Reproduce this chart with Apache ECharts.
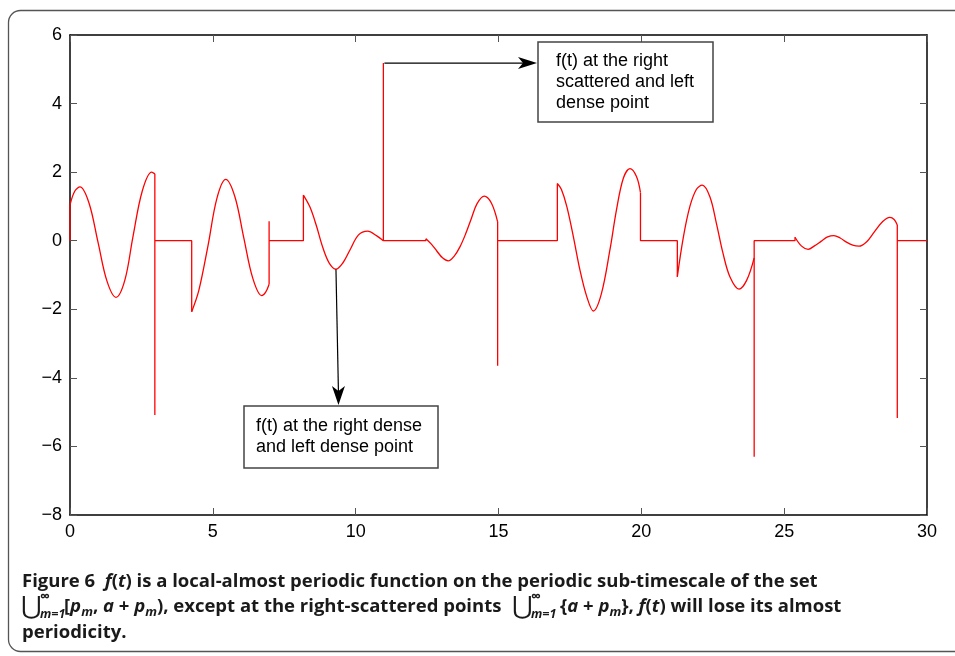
<!DOCTYPE html>
<html>
<head>
<meta charset="utf-8">
<script src="https://cdn.jsdelivr.net/npm/echarts@6/dist/echarts.min.js"></script>
<style>
  html, body { margin: 0; padding: 0; background: #fff; }
  #main { width: 955px; height: 656px; }
</style>
</head>
<body>
<div id="main"></div>
<script>
// axis ticks
var xTicks = [0, 5, 10, 15, 20, 25, 30];
var yTicks = [-8, -6, -4, -2, 0, 2, 4, 6];

// oscillating pieces of f(t)
var wave1 = [[0,1.05],[0.17,1.45],[0.35,1.57],[0.665,1.1],[0.98,-0.04],[1.295,-1.18],[1.61,-1.65],[1.92,-1.15],[2.2,0.1],[2.53,1.45],[2.86,2.0],[2.97,1.95]];
var wave2 = [[4.26,-2.07],[4.51,-1.45],[4.83,-0.15],[5.14,1.23],[5.45,1.79],[5.77,1.29],[6.08,0.1],[6.4,-1.1],[6.71,-1.6],[6.85,-1.5],[6.97,-1.27]];
var wave3 = [[8.17,1.33],[8.4,0.98],[8.62,0.45],[8.85,-0.2],[9.08,-0.66],[9.31,-0.83],[9.55,-0.65],[9.8,-0.27],[10.1,0.17],[10.42,0.28],[10.74,0.14],[10.97,0.0]];
var wave4 = [[12.46,0.06],[12.65,-0.1],[12.84,-0.3],[13.04,-0.5],[13.24,-0.59],[13.45,-0.45],[13.65,-0.18],[13.85,0.2],[14.05,0.65],[14.25,1.08],[14.5,1.3],[14.75,1.1],[14.97,0.55]];
var wave5 = [[17.06,1.67],[17.2,1.5],[17.39,1.0],[17.62,0.12],[17.85,-0.85],[18.09,-1.63],[18.32,-2.05],[18.6,-1.55],[18.9,-0.27],[19.13,0.9],[19.37,1.82],[19.6,2.1],[19.83,1.87],[19.97,1.4]];
var wave6 = [[21.26,-1.05],[21.47,0.1],[21.7,1.0],[21.93,1.5],[22.13,1.62],[22.4,1.28],[22.63,0.5],[22.86,-0.37],[23.1,-1.05],[23.42,-1.41],[23.69,-1.15],[23.95,-0.5]];
var wave7 = [[25.38,0.1],[25.6,-0.15],[25.84,-0.25],[26.06,-0.15],[26.29,-0.02],[26.52,0.11],[26.74,0.15],[26.96,0.08],[27.18,-0.04],[27.4,-0.13],[27.62,-0.16],[27.9,-0.02],[28.15,0.25],[28.45,0.56],[28.7,0.68],[28.85,0.62],[28.96,0.46]];

// jumps, spikes and zero stretches between the pieces
var jump0 = [[0,0],[0,1.05]];
var jump1 = [[2.97,1.95],[2.97,-5.08],[2.97,0],[4.26,0],[4.26,-2.07]];
var jump2 = [[6.97,-1.27],[6.97,0.57],[6.97,0],[8.17,0],[8.17,1.33]];
var jump3 = [[10.97,0],[10.97,5.18],[10.97,0],[12.46,0],[12.46,0.06]];
var jump4 = [[14.97,0.55],[14.97,-3.65],[14.97,0],[17.06,0],[17.06,1.67]];
var jump5 = [[19.97,1.4],[19.97,0],[21.26,0],[21.26,-1.05]];
var jump6 = [[23.95,-0.5],[23.95,-6.3],[23.95,0],[25.38,0],[25.38,0.1]];
var jump7 = [[28.96,0.46],[28.96,-5.17],[28.96,0],[30,0]];

// annotated points
var spikeTop = [10.97, 5.18];
var denseMin = [9.31, -0.83];

var waves = [wave1, wave2, wave3, wave4, wave5, wave6, wave7];
var jumps = [jump0, jump1, jump2, jump3, jump4, jump5, jump6, jump7];

var RED = '#ff0000';
var lblFont = 'Liberation Sans, Arial, sans-serif';

var chart = echarts.init(document.getElementById('main'));

var series = [];
waves.forEach(function (w) {
  series.push({ type: 'line', data: w, smooth: 0.35, symbol: 'none',
    lineStyle: { color: RED, width: 1.3 }, silent: true, z: 3 });
});
jumps.forEach(function (j) {
  series.push({ type: 'line', data: j, smooth: false, symbol: 'none',
    lineStyle: { color: RED, width: 1.3 }, silent: true, z: 3 });
});

function minus(v) { return String(v).replace('-', '\u2212'); }

var frameLine = { show: true, onZero: false, lineStyle: { color: '#000', width: 1.5 } };
var tickIn = { show: true, inside: true, length: 7, lineStyle: { color: '#555', width: 1 } };

var option = {
  animation: false,
  backgroundColor: '#fff',
  grid: { left: 70, right: 28, top: 35, bottom: 141, containLabel: false },
  xAxis: [
    { type: 'value', min: xTicks[0], max: xTicks[xTicks.length - 1], interval: 5, position: 'bottom',
      axisLine: frameLine, axisTick: tickIn, splitLine: { show: false },
      axisLabel: { color: '#000', fontSize: 18, fontFamily: lblFont, margin: 8, formatter: minus } },
    { type: 'value', min: xTicks[0], max: xTicks[xTicks.length - 1], interval: 5, position: 'top',
      axisLine: frameLine, axisTick: tickIn, splitLine: { show: false }, axisLabel: { show: false } }
  ],
  yAxis: [
    { type: 'value', min: yTicks[0], max: yTicks[yTicks.length - 1], interval: 2, position: 'left',
      axisLine: frameLine, axisTick: tickIn, splitLine: { show: false },
      axisLabel: { color: '#000', fontSize: 18, fontFamily: lblFont, margin: 8, formatter: minus } },
    { type: 'value', min: yTicks[0], max: yTicks[yTicks.length - 1], interval: 2, position: 'right',
      axisLine: frameLine, axisTick: tickIn, splitLine: { show: false }, axisLabel: { show: false } }
  ],
  series: series
};
chart.setOption(option);

// annotations + caption
var p1 = chart.convertToPixel({ xAxisIndex: 0, yAxisIndex: 0 }, spikeTop);
var p2 = chart.convertToPixel({ xAxisIndex: 0, yAxisIndex: 0 }, denseMin);

var capFont = '"Open Sans", Lato, sans-serif';
var capInk = '#1a1a1a';
var capSize = 18.5;
var capBase = { fontFamily: capFont, fontWeight: 'bold', fontSize: capSize, fill: capInk };
var capRich = {
  b: { fontFamily: capFont, fontWeight: 'bold', fontSize: capSize, fill: capInk },
  i: { fontFamily: capFont, fontWeight: 'bold', fontStyle: 'italic', fontSize: capSize, fill: capInk },
  s: { fontFamily: capFont, fontWeight: 'bold', fontStyle: 'italic', fontSize: 13, fill: capInk, padding: [10, 0, 0, 0] }
};
var annFont = { fontFamily: lblFont, fontSize: 18, fill: '#000' };

function txt(x, y, s) {
  var st = Object.assign({ text: s, verticalAlign: 'middle' }, annFont);
  return { type: 'text', x: x, y: y, style: st, z: 20 };
}
function cap(x, y, s) {
  var st = Object.assign({ text: s, verticalAlign: 'middle', rich: capRich }, capBase);
  return { type: 'text', x: x, y: y, style: st, z: 20 };
}
function union(x) {
  return [
    { type: 'text', x: x, y: 607, z: 20, style: { text: '\u22C3', verticalAlign: 'middle', fontFamily: 'DejaVu Sans', fontSize: 25, fill: capInk } },
    { type: 'text', x: x + 19, y: 597, z: 20, style: { text: '\u221E', verticalAlign: 'middle', fontFamily: capFont, fontWeight: 'bold', fontSize: 14, fill: capInk } },
    { type: 'text', x: x + 19, y: 614, z: 20, style: { text: 'm=1', verticalAlign: 'middle', fontFamily: capFont, fontWeight: 'bold', fontStyle: 'italic', fontSize: 12.5, fill: capInk } }
  ];
}

var tipX1 = 537, tipY2 = 405;
var graphic = [
  // outer rounded border
  { type: 'rect', shape: { x: 8.5, y: 10.5, width: 1000, height: 641, r: 12 },
    style: { fill: 'none', stroke: '#555', lineWidth: 1.3 }, z: 1, silent: true },
  // box 1
  { type: 'rect', shape: { x: 538, y: 42, width: 175, height: 80 },
    style: { fill: '#fff', stroke: '#444', lineWidth: 1.5 }, z: 10 },
  txt(556, 61, 'f(t) at the right'),
  txt(556, 82, 'scattered and left'),
  txt(556, 103, 'dense point'),
  // box 2
  { type: 'rect', shape: { x: 244, y: 406, width: 194, height: 62 },
    style: { fill: '#fff', stroke: '#444', lineWidth: 1.5 }, z: 10 },
  txt(256, 426, 'f(t) at the right dense'),
  txt(256, 447, 'and left dense point'),
  // arrow 1
  { type: 'line', shape: { x1: p1[0] + 1, y1: p1[1], x2: tipX1 - 12, y2: p1[1] },
    style: { stroke: '#000', lineWidth: 1.2 }, z: 11 },
  { type: 'polygon', shape: { points: [[tipX1, p1[1]], [tipX1 - 19, p1[1] - 6], [tipX1 - 14, p1[1]], [tipX1 - 19, p1[1] + 6]] },
    style: { fill: '#000' }, z: 11 },
  // arrow 2
  { type: 'line', shape: { x1: p2[0], y1: p2[1], x2: p2[0] + 2.5, y2: tipY2 - 12 },
    style: { stroke: '#000', lineWidth: 1.2 }, z: 11 },
  { type: 'polygon', shape: { points: [[p2[0] + 2.5, tipY2], [p2[0] - 4, tipY2 - 19], [p2[0] + 2.5, tipY2 - 14], [p2[0] + 9, tipY2 - 19]] },
    style: { fill: '#000' }, z: 11 },
  // caption
  cap(22, 582, 'Figure 6  {i|f}({i|t}) is a local-almost periodic function on the periodic sub-timescale of the set'),
  cap(64, 607, '[{i|p}{s|m}, {i|a} + {i|p}{s|m}), except at the right-scattered points'),
  cap(560, 607, '{b|{}{i|a} + {i|p}{s|m}}, {i|f}({i|t}) will lose its almost'),
  cap(22, 633, 'periodicity.')
].concat(union(21), union(512));
chart.setOption({ graphic: graphic });
</script>
</body>
</html>
